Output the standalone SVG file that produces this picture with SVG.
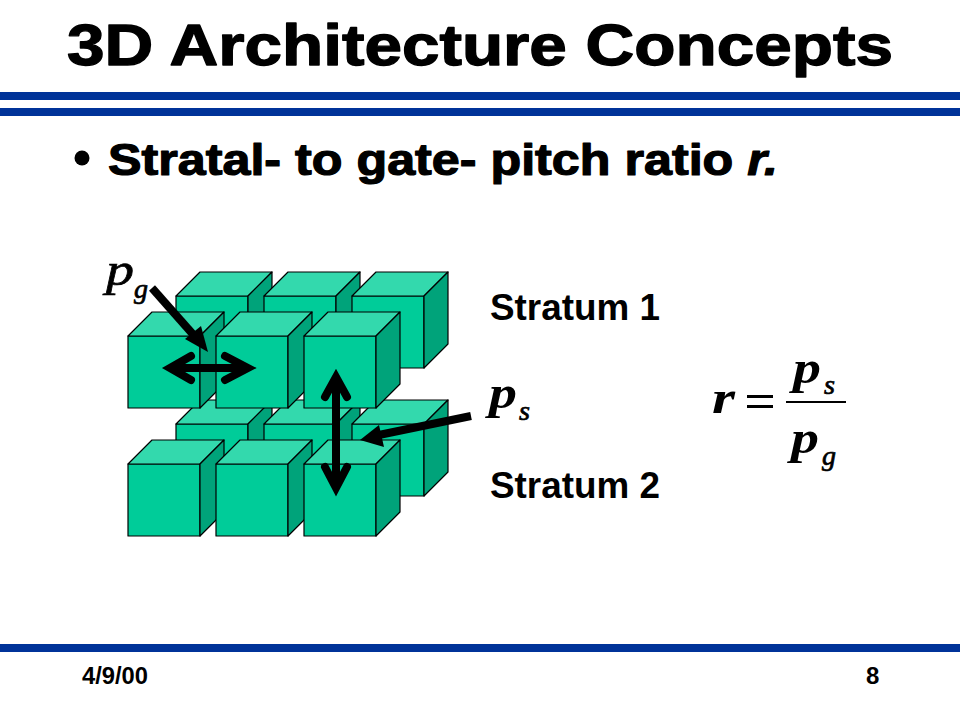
<svg xmlns="http://www.w3.org/2000/svg" xmlns:xlink="http://www.w3.org/1999/xlink" width="960" height="720" viewBox="0 0 960 720">
<style>
.bar{fill:#003399}
.f{fill:#00cc99}.t{fill:#33d9ad}.s{fill:#00a37a}
.c *{stroke:#000;stroke-width:1.2;stroke-linejoin:round}
.blk{font-family:"Liberation Sans",Arial,sans-serif;font-weight:700;fill:#000;stroke:#000;stroke-linejoin:round}
.b{font-family:"Liberation Sans",Arial,sans-serif;font-weight:700;fill:#000}
.m{font-family:"Liberation Serif","Times New Roman",serif;font-style:italic;font-weight:700;fill:#000}
.r{font-weight:400;stroke:#000;stroke-width:.7}
.a{fill:none;stroke:#000;stroke-width:8}
.h{fill:none;stroke:#000;stroke-width:8;stroke-linecap:round;stroke-linejoin:miter;stroke-miterlimit:10}
</style>
<defs>
<g id="cube" class="c">
<polygon class="f" points="0,24 72,24 72,96 0,96"/>
<polygon class="t" points="0,24 24,0 96,0 72,24"/>
<polygon class="s" points="72,24 96,0 96,72 72,96"/>
</g>
</defs>
<rect width="960" height="720" fill="#fff"/>
<rect class="bar" x="0" y="92" width="960" height="8"/>
<rect class="bar" x="0" y="108" width="960" height="8"/>
<rect class="bar" x="0" y="644" width="960" height="8"/>
<text id="title" class="blk" x="67" y="65" font-size="57" stroke-width="1.3" textLength="826" lengthAdjust="spacingAndGlyphs">3D Architecture Concepts</text>
<circle cx="82" cy="158" r="7.5" fill="#000"/>
<text id="bullet" class="blk" x="108" y="175" font-size="44" stroke-width="1.2" textLength="670" lengthAdjust="spacingAndGlyphs">Stratal- to gate- pitch ratio <tspan font-style="italic">r.</tspan></text>
<g id="cubes">
<use id="cube-lb1" xlink:href="#cube" href="#cube" x="176" y="400"/>
<use id="cube-lb2" xlink:href="#cube" href="#cube" x="264" y="400"/>
<use id="cube-lb3" xlink:href="#cube" href="#cube" x="352" y="400"/>
<use id="cube-ub1" xlink:href="#cube" href="#cube" x="176" y="272"/>
<use id="cube-ub2" xlink:href="#cube" href="#cube" x="264" y="272"/>
<use id="cube-ub3" xlink:href="#cube" href="#cube" x="352" y="272"/>
<use id="cube-lf1" xlink:href="#cube" href="#cube" x="128" y="440"/>
<use id="cube-lf2" xlink:href="#cube" href="#cube" x="216" y="440"/>
<use id="cube-lf3" xlink:href="#cube" href="#cube" x="304" y="440"/>
<use id="cube-uf1" xlink:href="#cube" href="#cube" x="128" y="312"/>
<use id="cube-uf2" xlink:href="#cube" href="#cube" x="216" y="312"/>
<use id="cube-uf3" xlink:href="#cube" href="#cube" x="304" y="312"/>
</g>
<g id="connectors">
<line class="a" x1="152" y1="288" x2="198" y2="340"/>
<polygon points="208,352 185,339 201,326" fill="#000"/>
<line class="a" x1="172" y1="368" x2="246" y2="368"/>
<polyline class="h" points="191,356 170,368 191,380"/>
<polyline class="h" points="225,356 248,368 225,380"/>
<line class="a" x1="336" y1="380" x2="336" y2="486"/>
<polyline class="h" points="325,397 336,377 347,397"/>
<polyline class="h" points="325,467 336,488 347,467"/>
<line class="a" x1="471" y1="416" x2="374" y2="436"/>
<polygon points="360,440 379,425 384,447" fill="#000"/>
</g>
<text id="stratum1" class="b" x="490" y="320" font-size="36" textLength="170" lengthAdjust="spacingAndGlyphs">Stratum 1</text>
<text id="stratum2" class="b" x="490" y="498" font-size="36" textLength="170" lengthAdjust="spacingAndGlyphs">Stratum 2</text>
<g id="pg-label"><text class="m r" x="106" y="285" font-size="47" textLength="28" lengthAdjust="spacingAndGlyphs">p</text><text class="m r" x="134" y="298" font-size="27" textLength="14" lengthAdjust="spacingAndGlyphs">g</text></g>
<g id="ps-label"><text class="m" x="489" y="408" font-size="47" textLength="28" lengthAdjust="spacingAndGlyphs">p</text><text class="m r" x="519" y="420" font-size="27" textLength="11" lengthAdjust="spacingAndGlyphs">s</text></g>
<g id="formula">
<text class="m" x="712" y="413" font-size="47" textLength="23" lengthAdjust="spacingAndGlyphs">r</text>
<rect x="747" y="395" width="26" height="3" fill="#000"/><rect x="747" y="405" width="26" height="3" fill="#000"/>
<rect x="786" y="401" width="60" height="2" fill="#000"/>
<text class="m" x="793" y="383" font-size="47" textLength="28" lengthAdjust="spacingAndGlyphs">p</text><text class="m r" x="824" y="394" font-size="27" textLength="11" lengthAdjust="spacingAndGlyphs">s</text>
<text class="m" x="791" y="453" font-size="47" textLength="28" lengthAdjust="spacingAndGlyphs">p</text><text class="m r" x="822" y="465" font-size="27" textLength="14" lengthAdjust="spacingAndGlyphs">g</text>
</g>
<text id="date" class="b" x="82" y="684" font-size="24" textLength="66" lengthAdjust="spacingAndGlyphs">4/9/00</text>
<text id="page" class="b" x="866" y="684" font-size="24">8</text>
</svg>
